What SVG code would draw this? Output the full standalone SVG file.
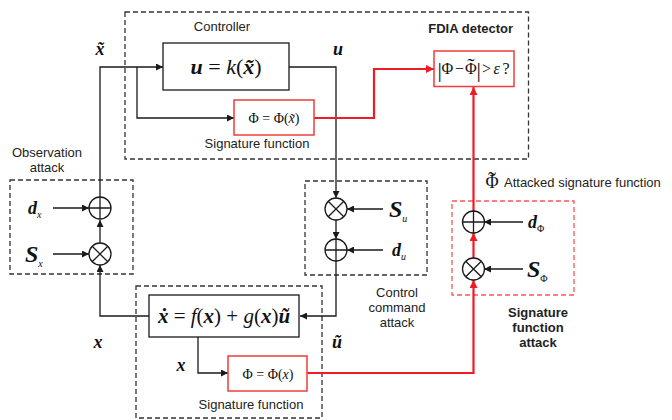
<svg xmlns="http://www.w3.org/2000/svg" width="672" height="420" viewBox="0 0 672 420">
<style>
.box{fill:#fff;stroke:#1a1a1a;stroke-width:1.3}
.rbox{fill:#fff;stroke:#f03c3c;stroke-width:1.5}
.dash{fill:none;stroke:#333;stroke-width:1.3;stroke-dasharray:5 3}
.rdash{fill:none;stroke:#f55;stroke-width:1.3;stroke-dasharray:5 3}
.ln{fill:none;stroke:#1a1a1a;stroke-width:1.3}
.rln{fill:none;stroke:#ee1c25;stroke-width:2.2}
.op{fill:#fff;stroke:#1a1a1a;stroke-width:1.3}
.sans{font-family:"Liberation Sans",Arial,sans-serif;font-size:13px;fill:#222}
.bold{font-weight:bold}
.math{font-family:"Liberation Serif","Times New Roman",serif;fill:#111}
.bi{font-weight:bold;font-style:italic}
.it{font-style:italic}
</style>
<defs>
<marker id="ah" viewBox="0 0 10 10" refX="10" refY="5" markerWidth="8" markerHeight="7" markerUnits="userSpaceOnUse" orient="auto"><path d="M0,0 L10,5 L0,10 z" fill="#1a1a1a"/></marker>
<marker id="rah" viewBox="0 0 10 10" refX="10" refY="5" markerWidth="9" markerHeight="8" markerUnits="userSpaceOnUse" orient="auto"><path d="M0,0 L10,5 L0,10 z" fill="#ee1c25"/></marker>
<g id="sum"><circle r="11" class="op"/><path d="M-11,0 H11 M0,-11 V11" class="ln"/></g>
<g id="mul"><circle r="11" class="op"/><path d="M-7.8,-7.8 L7.8,7.8 M-7.8,7.8 L7.8,-7.8" class="ln"/></g>
</defs>

<g id="groups">
<rect class="dash" x="125" y="12" width="403.5" height="147"/>
<rect class="dash" x="10" y="180" width="123" height="94"/>
<rect class="dash" x="305" y="181" width="122" height="94"/>
<rect class="rdash" x="452" y="201" width="122" height="94"/>
<rect class="dash" x="136" y="286" width="186" height="132"/>
</g>

<g id="connectors">
<path class="ln" d="M100,197 V67 H163" marker-end="url(#ah)"/>
<path class="ln" d="M137,67 V118 H234" marker-end="url(#ah)"/>
<path class="ln" d="M289,67 H336 V198" marker-end="url(#ah)"/>
<path class="ln" d="M336,220 V239" marker-end="url(#ah)"/>
<path class="ln" d="M336,261 V316 H300" marker-end="url(#ah)"/>
<path class="ln" d="M149,316 H100 V265" marker-end="url(#ah)"/>
<path class="ln" d="M100,243 V220" marker-end="url(#ah)"/>
<path class="ln" d="M53,208 H89" marker-end="url(#ah)"/>
<path class="ln" d="M53,254 H89" marker-end="url(#ah)"/>
<path class="ln" d="M383,209 H347" marker-end="url(#ah)"/>
<path class="ln" d="M383,250 H347" marker-end="url(#ah)"/>
<path class="ln" d="M198,337 V373 H228" marker-end="url(#ah)"/>
<path class="ln" d="M523,222 H484" marker-end="url(#ah)"/>
<path class="ln" d="M523,269 H484" marker-end="url(#ah)"/>
<path class="rln" d="M307,373 H473.5 V280" marker-end="url(#rah)"/>
<path class="rln" d="M473.5,258 V233" marker-end="url(#rah)"/>
<path class="rln" d="M473.5,211 V87" marker-end="url(#rah)"/>
<path class="rln" d="M314,118 H374 V69 H434" marker-end="url(#rah)"/>
</g>

<g id="controller">
<rect class="box" x="163" y="43" width="126" height="47"/>
<text class="math" x="226" y="74" font-size="22" text-anchor="middle"><tspan class="bi">u</tspan> = <tspan class="it">k</tspan>(<tspan class="bi">x̃</tspan>)</text>
<text class="sans" x="222" y="31" text-anchor="middle">Controller</text>
</g>

<g id="sig-top">
<rect class="rbox" x="234" y="100" width="80" height="35"/>
<text class="math" x="274" y="123" font-size="14" text-anchor="middle">Φ = Φ(<tspan class="it">x̃</tspan>)</text>
<text class="sans" x="257" y="148" text-anchor="middle">Signature function</text>
</g>

<g id="detector">
<rect class="rbox" x="434" y="51" width="80" height="35.5"/>
<text class="math" y="74" font-size="16"><tspan x="437.5" y="77" font-size="22">|</tspan><tspan x="441.5" y="74">Φ</tspan><tspan x="455">−</tspan><tspan x="465">Φ</tspan><tspan x="467.3" y="73" font-size="22">˜</tspan><tspan x="476.5" y="77" font-size="22">|</tspan><tspan x="482" y="74">&gt;</tspan><tspan x="493.5" class="it">ε</tspan><tspan x="502.5">?</tspan></text>
<text class="sans bold" x="513" y="33" text-anchor="end">FDIA detector</text>
</g>

<g id="obs-attack">
<use href="#sum" x="100" y="208"/>
<use href="#mul" x="100" y="254"/>
<text class="sans" x="47" y="157" text-anchor="middle">Observation</text>
<text class="sans" x="47" y="172" text-anchor="middle">attack</text>
<text class="math" x="28" y="214" font-size="18"><tspan class="bi">d</tspan><tspan class="it" font-size="10" dy="4">x</tspan></text>
<text class="math" x="25" y="262" font-size="24"><tspan class="bi">S</tspan><tspan class="it" font-size="10" dy="5">x</tspan></text>
</g>

<g id="ctrl-attack">
<use href="#mul" x="336" y="209"/>
<use href="#sum" x="336" y="250"/>
<text class="math" x="389" y="217" font-size="24"><tspan class="bi">S</tspan><tspan class="it" font-size="10" dy="5">u</tspan></text>
<text class="math" x="392" y="256" font-size="18"><tspan class="bi">d</tspan><tspan class="it" font-size="10" dy="4">u</tspan></text>
<text class="sans" x="397" y="297" text-anchor="middle">Control</text>
<text class="sans" x="397" y="312" text-anchor="middle">command</text>
<text class="sans" x="397" y="327" text-anchor="middle">attack</text>
</g>

<g id="sig-attack">
<use href="#sum" x="473.5" y="222"/>
<use href="#mul" x="473.5" y="269"/>
<text class="math" x="528" y="228" font-size="18"><tspan class="bi">d</tspan><tspan font-size="10" dy="4">Φ</tspan></text>
<text class="math" x="527" y="277" font-size="24"><tspan class="bi">S</tspan><tspan font-size="10" dy="5">Φ</tspan></text>
<text class="math" font-size="18"><tspan x="485.5" y="188">Φ</tspan><tspan x="488" y="187.5" font-size="24">˜</tspan></text>
<text class="sans" x="504" y="187">Attacked signature function</text>
<text class="sans bold" x="538" y="317" text-anchor="middle">Signature</text>
<text class="sans bold" x="538" y="332" text-anchor="middle">function</text>
<text class="sans bold" x="538" y="347" text-anchor="middle">attack</text>
</g>

<g id="system">
<rect class="box" x="149" y="295" width="150" height="42"/>
<text class="math" x="224" y="323" font-size="21" text-anchor="middle"><tspan class="bi">ẋ</tspan> = <tspan class="it">f</tspan>(<tspan class="bi">x</tspan>) + <tspan class="it">g</tspan>(<tspan class="bi">x</tspan>)<tspan class="bi">ũ</tspan></text>
</g>

<g id="sig-bottom">
<rect class="rbox" x="228" y="356" width="79" height="35"/>
<text class="math" x="268" y="379" font-size="14" text-anchor="middle">Φ = Φ(<tspan class="it">x</tspan>)</text>
<text class="sans" x="251" y="409" text-anchor="middle">Signature function</text>
</g>

<g id="labels">
<text class="math bi" x="100" y="55" font-size="18" text-anchor="middle">x̃</text>
<text class="math bi" x="338" y="55" font-size="18" text-anchor="middle">u</text>
<text class="math bi" x="98" y="348" font-size="18" text-anchor="middle">x</text>
<text class="math bi" x="181" y="371" font-size="18" text-anchor="middle">x</text>
<text class="math bi" x="337" y="348" font-size="18" text-anchor="middle">ũ</text>
</g>
</svg>
